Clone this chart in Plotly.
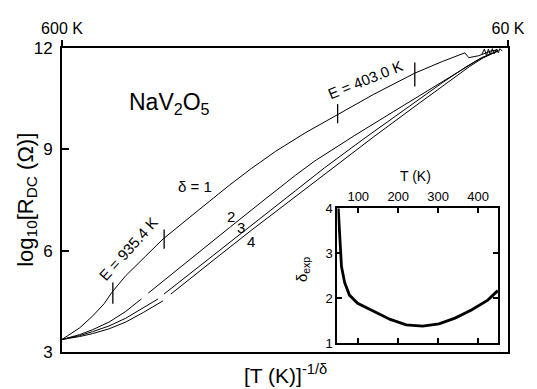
import plotly.graph_objects as go

# ---- main panel data (x: normalised [T]^(-1/delta) axis, y: log10 R) ----
c1_x = [0, 0.0396, 0.0681, 0.0945, 0.1121, 0.1429, 0.1868, 0.2264, 0.3033, 0.3758, 0.4242, 0.4791, 0.5451, 0.6176, 0.6989, 0.7912, 0.8527, 0.9033, 0.9121, 0.9341, 0.9626, 0.978]
c1_y = [3.371, 3.714, 4.057, 4.429, 4.771, 5.257, 5.829, 6.343, 7.171, 7.943, 8.429, 8.943, 9.486, 10.029, 10.629, 11.257, 11.6, 11.857, 11.714, 11.771, 11.914, 11.943]

c2_x = [0, 0.0396, 0.0681, 0.1055, 0.1429, 0.178, None, 0.1934, 0.244, 0.3033, 0.3758, 0.4571, 0.5231, 0.567, 0.6549, 0.7429, 0.8308, 0.8967, 0.9341, 0.9626, 0.978]
c2_y = [3.371, 3.514, 3.657, 3.886, 4.2, 4.571, None, 4.743, 5.286, 5.914, 6.686, 7.543, 8.229, 8.657, 9.4, 10.114, 10.829, 11.343, 11.657, 11.829, 11.914]

c3_x = [0, 0.0396, 0.0681, 0.1055, 0.1429, 0.1824, 0.2154, None, 0.2286, 0.2813, 0.3473, 0.4, 0.4571, 0.5231, 0.589, 0.6769, 0.7648, 0.8527, 0.9077, 0.9407, 0.978]
c3_y = [3.371, 3.486, 3.6, 3.771, 4.0, 4.314, 4.571, None, 4.714, 5.257, 5.943, 6.486, 7.086, 7.771, 8.457, 9.314, 10.143, 10.971, 11.457, 11.714, 11.914]

c4_x = [0, 0.0396, 0.0681, 0.1055, 0.1429, 0.1824, 0.2264, None, 0.244, 0.2813, 0.3473, 0.4242, 0.5231, 0.6176, 0.6989, 0.7868, 0.8637, 0.9143, 0.9451, 0.978]
c4_y = [3.371, 3.457, 3.543, 3.686, 3.886, 4.171, 4.514, None, 4.714, 5.114, 5.8, 6.6, 7.6, 8.571, 9.371, 10.229, 10.971, 11.457, 11.714, 11.914]

noise_x = [0.941, 0.947, 0.952, 0.956, 0.960, 0.965, 0.969, 0.974, 0.978, 0.982, 0.987]
noise_y = [11.8, 11.97, 11.77, 11.97, 11.8, 11.98, 11.83, 11.97, 11.86, 11.98, 11.91]

# activation-energy markers on the delta = 1 curve
e_tick_x = [0.114, 0.229, 0.618, 0.791]
e_tick_lo = [4.43, 6.06, 9.77, 10.86]
e_tick_hi = [5.06, 6.63, 10.34, 11.57]

y_ticks = [3, 6, 9, 12]
top_tick_pos = [0, 1]
top_tick_text = ["600 K", "60 K"]

# ---- inset data ----
inset_T = [50, 52, 54, 58, 66, 78, 98.5, 139, 180, 220, 261, 302, 342, 383, 424, 449]
inset_delta = [4.0, 3.6, 3.28, 2.71, 2.35, 2.07, 1.89, 1.71, 1.53, 1.41, 1.38, 1.43, 1.56, 1.74, 1.96, 2.17]
inset_xticks = [100, 200, 300, 400]
inset_yticks = [1, 2, 3, 4]

FONT = "Liberation Sans, Arial, Helvetica, sans-serif"
BLACK = "black"

fig = go.Figure()
for xs, ys in [(c1_x, c1_y), (c2_x, c2_y), (c3_x, c3_y), (c4_x, c4_y), (noise_x, noise_y)]:
    fig.add_trace(go.Scatter(x=xs, y=ys, mode="lines", line=dict(color=BLACK, width=1),
                             connectgaps=False, showlegend=False, hoverinfo="skip"))
for x0, lo, hi in zip(e_tick_x, e_tick_lo, e_tick_hi):
    fig.add_trace(go.Scatter(x=[x0, x0], y=[lo, hi], mode="lines", line=dict(color=BLACK, width=1.3),
                             showlegend=False, hoverinfo="skip"))

fig.add_trace(go.Scatter(x=inset_T, y=inset_delta, mode="lines", line=dict(color=BLACK, width=2.8),
                         xaxis="x3", yaxis="y3", showlegend=False, hoverinfo="skip"))

# invisible trace to activate the top axis
fig.add_trace(go.Scatter(x=[0, 1], y=[3, 3], mode="markers", marker=dict(opacity=0),
                         xaxis="x2", yaxis="y", showlegend=False, hoverinfo="skip"))

# page body has an 8px default margin, so the figure is sized to fit the window
fig.update_layout(
    width=529, height=381,
    margin=dict(l=54, r=20, t=29, b=37),
    paper_bgcolor="white", plot_bgcolor="white",
    font=dict(family=FONT, color=BLACK),
    xaxis=dict(range=[0, 1], showline=True, linecolor=BLACK, linewidth=2, mirror=True,
               ticks="", showticklabels=False, showgrid=False, zeroline=False, fixedrange=True),
    xaxis2=dict(range=[0, 1], overlaying="x", side="top", anchor="y",
                tickvals=top_tick_pos, ticktext=top_tick_text, ticks="outside", ticklen=7,
                tickwidth=1.5, tickcolor=BLACK, tickfont=dict(size=16), showline=False,
                showgrid=False, zeroline=False),
    yaxis=dict(range=[3, 12], tickvals=y_ticks, ticks="inside", ticklen=7, tickwidth=1.5,
               tickcolor=BLACK, tickfont=dict(size=17), showline=True, linecolor=BLACK,
               linewidth=2, mirror=True, showgrid=False, zeroline=False, ticklabelstandoff=4),
    xaxis3=dict(domain=[0.6176, 0.978], anchor="y3", range=[48, 450], side="top",
                tickvals=inset_xticks, ticks="inside", ticklen=5, tickwidth=1.5, tickcolor=BLACK,
                tickfont=dict(size=13), showline=True, linecolor=BLACK, linewidth=2,
                mirror="ticks", showgrid=False, zeroline=False),
    yaxis3=dict(domain=[0.0286, 0.473], anchor="x3", range=[1, 4], tickvals=inset_yticks,
                ticks="inside", ticklen=5, tickwidth=1.5, tickcolor=BLACK, tickfont=dict(size=13),
                showline=True, linecolor=BLACK, linewidth=2, mirror="ticks",
                showgrid=False, zeroline=False),
)

ann = [
    dict(text="log<sub>10</sub>[R<sub>DC</sub> (Ω)]", x=-0.079, y=0.5, textangle=-90, size=22),
    dict(text="[T (K)]<sup>-1/δ</sup>", x=0.501, y=-0.073, size=21),
    dict(text="NaV<sub>2</sub>O<sub>5</sub>", x=(172 - 62) / 455, y=(352 - 95) / 315, size=23),
    dict(text="δ = 1", x=(198 - 62) / 455, y=(352 - 180) / 315, size=15),
    dict(text="2", x=(234 - 62) / 455, y=(352 - 212) / 315, size=15),
    dict(text="3", x=(245 - 62) / 455, y=(352 - 223) / 315, size=15),
    dict(text="4", x=(255 - 62) / 455, y=(352 - 238) / 315, size=15),
    dict(text="E = 935.4 K", x=(130 - 62) / 455, y=(352 - 245) / 315, size=15, textangle=-48),
    dict(text="E = 403.0 K", x=(372 - 62) / 455, y=(352 - 70) / 315, size=15, textangle=-22),
    dict(text="T (K)", x=(423 - 62) / 455, y=(352 - 170) / 315, size=14),
    dict(text="δ<sub>exp</sub>", x=(308 - 62) / 455, y=(352 - 267) / 315, size=15, textangle=-90),
]
for a in ann:
    fig.add_annotation(text=a["text"], x=a["x"], y=a["y"], xref="paper", yref="paper",
                       showarrow=False, textangle=a.get("textangle", 0),
                       font=dict(size=a["size"], family=FONT, color=BLACK),
                       xanchor="center", yanchor="middle")

fig.write_html("out.html")
